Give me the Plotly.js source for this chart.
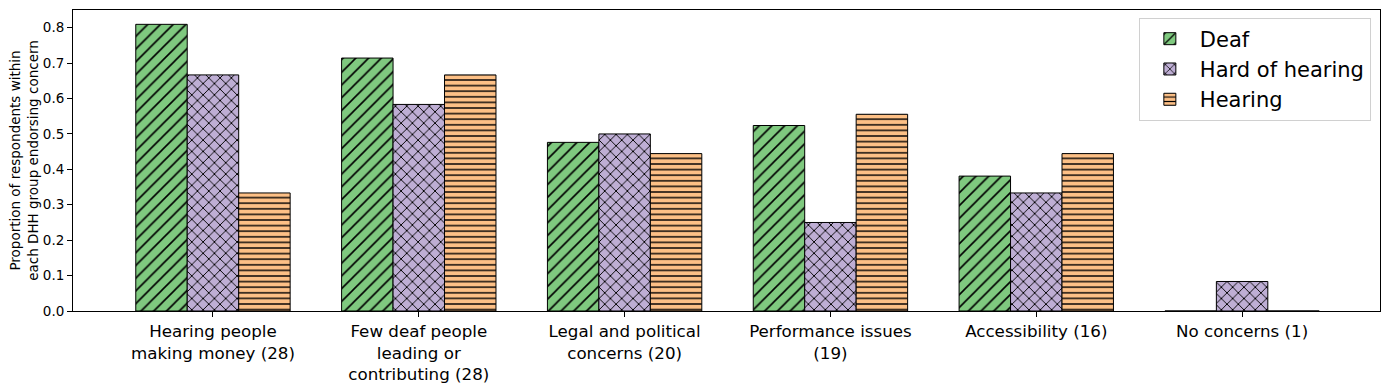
<!DOCTYPE html>
<html>
<head>
<meta charset="utf-8">
<script src="https://cdn.plot.ly/plotly-3.0.1.min.js"></script>
<style>
  html, body { margin: 0; padding: 0; background: #fff; }
  #chart { width: 1389px; height: 390px; }
</style>
</head>
<body>
<div id="chart"></div>
<script>
const concerns = [
  'Hearing people<br>making money (28)',
  'Few deaf people<br>leading or<br>contributing (28)',
  'Legal and political<br>concerns (20)',
  'Performance issues<br>(19)',
  'Accessibility (16)',
  'No concerns (1)'
];
const deaf = [17/21, 15/21, 10/21, 11/21, 8/21, 0];
const hardOfHearing = [8/12, 7/12, 6/12, 3/12, 4/12, 1/12];
const hearing = [3/9, 6/9, 4/9, 5/9, 4/9, 0];

const FONT = 'DejaVu Sans, sans-serif';
const idx = concerns.map((_, i) => i);

function barTrace(name, vals, color, shape, size, solidity) {
  return {
    type: 'bar',
    name: name,
    x: idx,
    y: vals,
    marker: {
      color: color,
      line: { color: '#000', width: 1 },
      pattern: { shape: shape, fgcolor: '#000', bgcolor: color, fgopacity: 1, size: size, solidity: solidity }
    },
    hoverinfo: 'y+name'
  };
}

const traces = [
  barTrace('Deaf', deaf, '#7fc97f', '/', 9, 0.18),
  barTrace('Hard of hearing', hardOfHearing, '#beaed4', 'x', 8, 0.22),
  barTrace('Hearing', hearing, '#fdc086', '-', 5.6, 0.25)
];

const layout = {
  width: 1389,
  height: 390,
  margin: { l: 73, r: 9, t: 10, b: 79 },
  paper_bgcolor: '#fff',
  plot_bgcolor: '#fff',
  font: { family: FONT, color: '#000', size: 13 },
  barmode: 'group',
  bargap: 0.25,
  bargroupgap: 0,
  showlegend: true,
  xaxis: {
    range: [-0.68, 5.67],
    tickmode: 'array',
    tickvals: idx,
    ticktext: concerns,
    tickfont: { size: 16.7 },
    ticks: 'outside',
    ticklen: 5,
    tickcolor: '#000',
    showline: true,
    linecolor: '#000',
    linewidth: 1,
    mirror: true,
    showgrid: false,
    zeroline: false
  },
  yaxis: {
    range: [0, 0.85],
    dtick: 0.1,
    tickformat: '.1f',
    tickfont: { size: 13.5 },
    ticks: 'outside',
    ticklen: 5,
    tickcolor: '#000',
    showline: true,
    linecolor: '#000',
    linewidth: 1,
    mirror: true,
    showgrid: false,
    zeroline: false,
    title: {
      text: 'Proportion of respondents within<br>each DHH group endorsing concern',
      font: { size: 13.5 },
      standoff: 1
    }
  },
  legend: {
    x: 0.993,
    y: 0.975,
    xanchor: 'right',
    yanchor: 'top',
    bgcolor: 'rgba(255,255,255,0.8)',
    bordercolor: '#d0d0d0',
    borderwidth: 1,
    font: { size: 21 },
    itemwidth: 50,
    tracegroupgap: 0
  }
};

Plotly.newPlot('chart', traces, layout, { displayModeBar: false, staticPlot: true });
</script>
</body>
</html>
